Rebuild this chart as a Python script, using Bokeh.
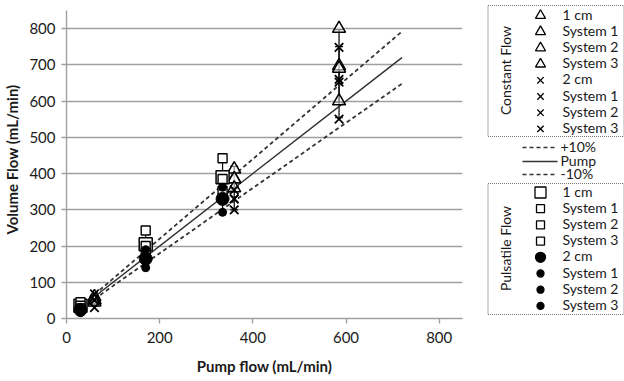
from math import pi
from bokeh.plotting import figure
from bokeh.layouts import row
from bokeh.models import Whisker, ColumnDataSource, Range1d, FixedTicker, TeeHead
from bokeh.embed import file_html
from bokeh.resources import INLINE
from bokeh.core.properties import value

FONT = "Lato"
INK = "#1a1a1a"
AXIS = "#a0a0a0"

# ---------------- data ----------------
constant_pump = [60, 360, 585]
pulsatile_pump = [30, 170, 335]

# Constant flow, 1 cm (triangles): mean with error and the three systems
tri_1cm = [52, 385, 697]
tri_1cm_err = [8, 35, 100]
tri_s1 = [60, 412, 800]
tri_s2 = [50, 385, 690]
tri_s3 = [45, 360, 600]
# Constant flow, 2 cm (crosses)
x_2cm = [50, 330, 652]
x_2cm_err = [15, 30, 98]
x_s1 = [68, 355, 748]
x_s2 = [52, 330, 660]
x_s3 = [30, 300, 550]
# Pulsatile flow, 1 cm (squares)
sq_1cm = [35, 205, 390]
sq_1cm_err = [8, 35, 50]
sq_s1 = [45, 243, 442]
sq_s2 = [35, 200, 385]
sq_s3 = [28, 180, 352]
# Pulsatile flow, 2 cm (circles)
ci_2cm = [24, 165, 330]
ci_2cm_err = [6, 25, 35]
ci_s1 = [30, 190, 362]
ci_s2 = [22, 165, 330]
ci_s3 = [16, 140, 293]

# reference lines
ref_x = [60, 720]
pump_y = [60, 720]
plus10_y = [66, 792]
minus10_y = [54, 648]

x_ticks = [0, 200, 400, 600, 800]
y_ticks = [0, 100, 200, 300, 400, 500, 600, 700, 800]

legend_const_labels = ["1 cm", "System 1", "System 2", "System 3", "2 cm", "System 1", "System 2", "System 3"]
legend_const_markers = ["triangle"] * 4 + ["x"] * 4
legend_const_sizes = [10, 10, 10, 10, 9, 9, 9, 9]
legend_const_fill = ["white"] * 8
legend_puls_labels = ["1 cm", "System 1", "System 2", "System 3", "2 cm", "System 1", "System 2", "System 3"]
legend_puls_markers = ["square"] * 4 + ["circle"] * 4
legend_puls_sizes = [11, 8, 8, 8, 10, 7, 7, 7]
legend_puls_fill = ["white"] * 4 + ["black"] * 4
legend_line_labels = ["+10%", "Pump", "-10%"]
legend_line_dash = ["4 3", "solid", "4 3"]

# ---------------- main plot ----------------
# frame spans the full height above the x axis; the axis itself stops at 850
p = figure(width=480, height=381, x_range=Range1d(0, 850), y_range=Range1d(0, 877.5),
           output_backend="svg", toolbar_location=None, title=None,
           min_border_left=64, min_border_right=18, min_border_top=0, min_border_bottom=63)
p.outline_line_color = None
p.background_fill_color = "white"
p.border_fill_color = "white"
p.xgrid.visible = False
p.ygrid.ticker = FixedTicker(ticks=y_ticks)
p.ygrid.grid_line_color = AXIS
p.ygrid.grid_line_width = 1.4

p.xaxis.ticker = FixedTicker(ticks=x_ticks)
p.yaxis.ticker = FixedTicker(ticks=y_ticks)
p.yaxis.bounds = (0, 850)
for ax in (p.xaxis, p.yaxis):
    ax.axis_line_color = AXIS
    ax.axis_line_width = 1.4
    ax.major_tick_line_color = AXIS
    ax.major_tick_line_width = 1.4
    ax.major_tick_in = 0
    ax.major_tick_out = 5
    ax.minor_tick_line_color = None
    ax.major_label_text_font = FONT
    ax.major_label_text_font_size = "15px"
    ax.major_label_text_color = INK
    ax.axis_label_text_font = FONT
    ax.axis_label_text_font_size = "15px"
    ax.axis_label_text_font_style = "bold"
    ax.axis_label_text_color = INK
p.xaxis.axis_label = "Pump flow (mL/min)"
p.yaxis.axis_label = "Volume Flow (mL/min)"
p.xaxis.major_label_standoff = 8
p.yaxis.major_label_standoff = 6
p.xaxis.axis_label_standoff = 11
p.yaxis.axis_label_standoff = 5

# reference lines
p.line(ref_x, plus10_y, line_color="#333333", line_width=1.8, line_dash="4 3")
p.line(ref_x, minus10_y, line_color="#333333", line_width=1.8, line_dash="4 3")
p.line(ref_x, pump_y, line_color="#333333", line_width=1.5)


def whisk(xs, mean, err):
    src = ColumnDataSource(dict(x=xs, lo=[m - e for m, e in zip(mean, err)],
                                hi=[m + e for m, e in zip(mean, err)]))
    w = Whisker(source=src, base="x", lower="lo", upper="hi", line_color="black", line_width=1.2,
                upper_head=TeeHead(size=8, line_color="black", line_width=1.2),
                lower_head=TeeHead(size=8, line_color="black", line_width=1.2))
    p.add_layout(w)


whisk(constant_pump, tri_1cm, tri_1cm_err)
whisk(constant_pump, x_2cm, x_2cm_err)
whisk(pulsatile_pump, sq_1cm, sq_1cm_err)
whisk(pulsatile_pump, ci_2cm, ci_2cm_err)

# constant flow markers
for ys in (tri_1cm, tri_s1, tri_s2, tri_s3):
    p.scatter(constant_pump, ys, marker="triangle", size=13, fill_color="white", fill_alpha=0.5,
              line_color="black", line_width=1.5)
for ys in (x_2cm, x_s1, x_s2, x_s3):
    p.scatter(constant_pump, ys, marker="x", size=12, line_color="black", line_width=1.8)
# pulsatile flow markers
p.scatter(pulsatile_pump, sq_1cm, marker="square", size=13, fill_color="white", line_color="black", line_width=1.5)
for ys in (sq_s1, sq_s2, sq_s3):
    p.scatter(pulsatile_pump, ys, marker="square", size=9, fill_color="white", line_color="black", line_width=1.4)
p.scatter(pulsatile_pump, ci_2cm, marker="circle", size=13, fill_color="black", line_color="black")
for ys in (ci_s1, ci_s2, ci_s3):
    p.scatter(pulsatile_pump, ys, marker="circle", size=8, fill_color="black", line_color="black")

# ---------------- legend panel (same frame geometry as the main plot) ----------------
lg = figure(width=144, height=381, frame_width=144, frame_height=318, title=None,
            x_range=Range1d(0, 144), y_range=Range1d(318, 0),
            output_backend="svg", toolbar_location=None, min_border=0,
            min_border_left=0, min_border_right=0, min_border_top=0, min_border_bottom=63,
            x_axis_type=None, y_axis_type=None)
lg.outline_line_color = None
lg.grid.visible = False
lg.background_fill_color = "white"
lg.border_fill_color = "white"

row_step = 16.2
const_top, puls_top = 15, 192
marker_x, text_x = 60, 82
txt_dy = -1.5

# group boxes
lg.quad(left=[7.5, 7.5], right=[143.5, 143.5], top=[5, 183], bottom=[136, 314],
        fill_color=None, line_color="#777777", line_width=1.2, line_dash="1 1")
lg.text(x=[25, 25], y=[70, 248], text=["Constant Flow", "Pulsatile Flow"], angle=pi / 2,
        text_font=value(FONT), text_font_size="14px", text_color=INK,
        text_align="center", text_baseline="middle")

cy = [const_top + i * row_step for i in range(len(legend_const_labels))]
lg.scatter([marker_x] * len(cy), cy, marker=legend_const_markers, size=legend_const_sizes,
           fill_color=legend_const_fill, line_color="black", line_width=1.3)
lg.text([text_x] * len(cy), cy, text=legend_const_labels, text_font=value(FONT),
        text_font_size="14px", text_color=INK, text_baseline="middle", y_offset=txt_dy)

py = [puls_top + i * row_step for i in range(len(legend_puls_labels))]
lg.scatter([marker_x] * len(py), py, marker=legend_puls_markers, size=legend_puls_sizes,
           fill_color=legend_puls_fill, line_color="black", line_width=1.3)
lg.text([text_x] * len(py), py, text=legend_puls_labels, text_font=value(FONT),
        text_font_size="14px", text_color=INK, text_baseline="middle", y_offset=txt_dy)

line_rows = [147, 161, 174]
for yy, lab, dash in zip(line_rows, legend_line_labels, legend_line_dash):
    lg.line([42, 77], [yy, yy], line_color="#333333", line_width=1.6, line_dash=dash)
lg.text([80] * 3, line_rows, text=legend_line_labels, text_font=value(FONT),
        text_font_size="14px", text_color=INK, text_baseline="middle", y_offset=txt_dy)

layout = row(p, lg, spacing=0)
open("out.html", "w").write(file_html(layout, INLINE))
